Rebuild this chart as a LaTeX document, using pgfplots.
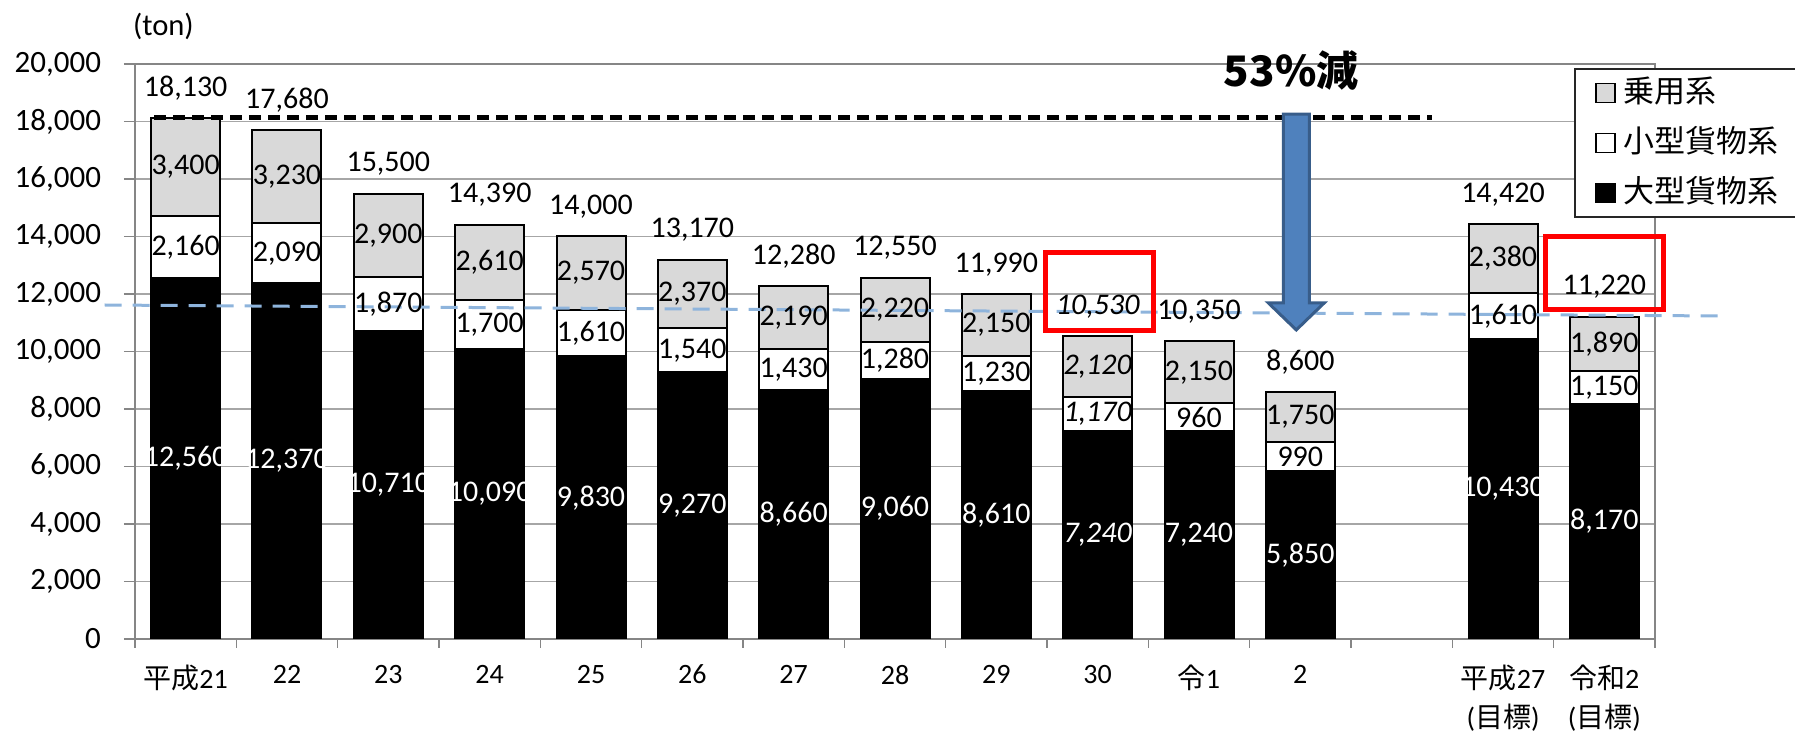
\documentclass[border=0pt]{standalone}
\usepackage{fontspec}
\setmainfont{Carlito}
\newfontfamily\cjk{Noto Sans CJK JP}
\usepackage{pgfplots}
\usepackage{pgfplotstable}
\pgfplotsset{compat=1.18}
\definecolor{axisgray}{HTML}{868686}
\definecolor{gridgray}{HTML}{A6A6A6}
\definecolor{segray}{HTML}{D9D9D9}
\definecolor{arrowblue}{HTML}{4F81BD}
\definecolor{arrowdark}{HTML}{385D8A}
\definecolor{trendblue}{HTML}{8EB4DC}

% x: slot (12 = empty gap), big = 大型貨物系, small = 小型貨物系, car = 乗用系
\pgfplotstableread{
x  big   small car  total it
0  12560 2160  3400 18130 0
1  12370 2090  3230 17680 0
2  10710 1870  2900 15500 0
3  10090 1700  2610 14390 0
4  9830  1610  2570 14000 0
5  9270  1540  2370 13170 0
6  8660  1430  2190 12280 0
7  9060  1280  2220 12550 0
8  8610  1230  2150 11990 0
9  7240  1170  2120 10530 1
10 7240  960   2150 10350 0
11 5850  990   1750 8600  0
13 10430 1610  2380 14420 0
14 8170  1150  1890 11220 0
}\data

\pgfplotsset{
  common/.style={
    scale only axis, width=760pt, height=287.5pt,
    xmin=-0.5, xmax=14.5, ymin=0, ymax=20000,
    at={(0pt,0pt)}, anchor=south west,
    /pgf/number format/fixed,
    /pgf/number format/precision=0,
    /pgf/number format/1000 sep={,},
    /pgf/number format/assume math mode=true,
  },
  sqlegend/.style={legend image code/.code={\draw[##1, line width=0.75pt] (0pt,-4.75pt) rectangle (9.5pt,4.75pt);}},
  lab/.style={draw=none, mark=none, point meta=explicit,
    visualization depends on={\thisrow{it} \as \isit},
    nodes near coords={\ifdim\isit pt>0.5pt \itshape\fi\pgfmathprintnumber{\pgfplotspointmeta}},
    every node near coord/.style={anchor=center, inner sep=0pt, font=\fontsize{15}{18}\selectfont, #1}},
}

\begin{document}
\begin{tikzpicture}
\path[use as bounding box] (-67.5pt,-46pt) rectangle (830pt,319.5pt);
\begin{axis}[common,
  ybar stacked, bar width=34.5pt,
  axis line style={axisgray, line width=0.75pt},
  ymajorgrids, major grid style={gridgray, line width=0.75pt},
  ytick={0,2000,...,20000}, scaled y ticks=false,
  xtick={0,...,14},
  xticklabels={{\cjk 平成}21, 22, 23, 24, 25, 26, 27, 28, 29, 30, {\cjk 令}1, 2, {}, {{\cjk 平成}27\\({\cjk 目標})}, {{\cjk 令和}2\\({\cjk 目標})}},
  minor xtick={-0.5,0.5,...,14.5},
  tick align=outside, xtick pos=bottom, ytick pos=left,
  major tick length=5.5pt, minor tick length=4.5pt,
  major x tick style={draw=none},
  minor x tick style={axisgray, line width=0.75pt},
  major y tick style={axisgray, line width=0.75pt},
  yticklabel style={font=\fontsize{15.5}{18}\selectfont, xshift=-8pt},
  xticklabel style={font=\fontsize{14}{19.5}\selectfont, align=center, yshift=-4pt},
  reverse legend,
  legend style={at={(axis description cs:0.947,0.993)}, anchor=north west,
    draw=black!85, line width=1pt, font=\cjk\fontsize{15.5}{18}\selectfont,
    inner xsep=10pt, inner ysep=2.5pt, row sep=6pt, column sep=2pt,
    nodes={inner sep=2pt, text height=12pt, text depth=3pt}},
  legend cell align=left,
]
\addplot[fill=black, draw=black, line width=1pt, sqlegend] table[x=x, y=big] {\data};
\addlegendentry{大型貨物系}
\addplot[fill=white, draw=black, line width=1pt, sqlegend] table[x=x, y=small] {\data};
\addlegendentry{小型貨物系}
\addplot[fill=segray, draw=black, line width=1pt, sqlegend] table[x=x, y=car] {\data};
\addlegendentry{乗用系}
\end{axis}

\begin{axis}[common, hide axis, clip=false]
% trend line (light blue, dashed)
\addplot[trendblue, line width=1.5pt, dash pattern=on 8.5pt off 5.5pt] coordinates {(-0.80,11617) (15.12,11235)};
% 18,130 reference level
\addplot[black, line width=2.5pt, dash pattern=on 6pt off 3.5pt] coordinates {(-0.31,18130) (12.30,18130)};
% arrow
\addplot[fill=arrowblue, draw=arrowdark, line width=1.5pt] coordinates {(10.832,18260) (11.088,18260) (11.088,11690) (11.236,11690) (10.96,10750) (10.684,11690) (10.832,11690)} -- cycle;
% segment labels
\addplot[lab={text=white}] table[x=x, y expr=0.5*\thisrow{big}, meta=big] {\data};
\addplot[lab={text=black}] table[x=x, y expr=\thisrow{big}+0.5*\thisrow{small}, meta=small] {\data};
\addplot[lab={text=black}] table[x=x, y expr=\thisrow{big}+\thisrow{small}+0.5*\thisrow{car}, meta=car] {\data};
\addplot[lab={text=black, yshift=15pt}] table[x=x, y expr=\thisrow{big}+\thisrow{small}+\thisrow{car}, meta=total] {\data};
% red boxes
\addplot[red, line width=2.5pt] coordinates {(8.49,10713) (9.55,10713) (9.55,13426) (8.49,13426)} -- cycle;
\addplot[red, line width=2.5pt] coordinates {(13.42,11443) (14.58,11443) (14.58,13983) (13.42,13983)} -- cycle;
\node[font=\fontsize{15.3}{18}\selectfont] at (axis cs:-0.22,21290) {(ton)};
\node[font=\cjk\bfseries\fontsize{21}{24}\selectfont] at (axis cs:10.91,19790) {53\%減};
\end{axis}
\end{tikzpicture}
\end{document}
